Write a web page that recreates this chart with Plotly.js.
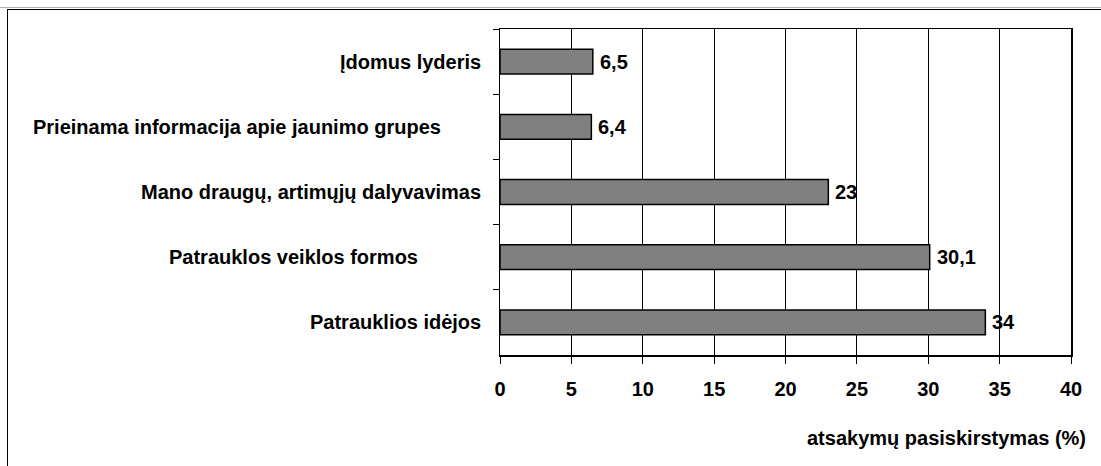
<!DOCTYPE html>
<html>
<head>
<meta charset="utf-8">
<script src="https://cdn.plot.ly/plotly-3.0.1.min.js"></script>
<style>
  html, body { margin: 0; padding: 0; background: #fff; }
  #wrap { position: relative; width: 1101px; height: 466px; }
  #chart { width: 1101px; height: 466px; }
  #frameGray { position: absolute; left: 0; top: 7px; width: 1101px; height: 0; border-top: 1px solid #b0b0b0; pointer-events: none; }
  #frame { position: absolute; left: 7px; top: 9px; width: 1094px; height: 457px; border-top: 1px solid #000; border-left: 1px solid #000; pointer-events: none; }
</style>
</head>
<body>
<div id="wrap">
  <div id="chart"></div>
  <div id="frameGray"></div>
  <div id="frame"></div>
</div>
<script>
const categories = [
  "Įdomus lyderis",
  "Prieinama informacija apie jaunimo grupes",
  "Mano draugų, artimųjų dalyvavimas",
  "Patrauklos veiklos formos",
  "Patrauklios idėjos"
];
const values = [6.5, 6.4, 23, 30.1, 34];
const valueLabels = ["6,5", "6,4", "23", "30,1", "34"];
const xTicks = [0, 5, 10, 15, 20, 25, 30, 35, 40];
const xTitle = "atsakymų pasiskirstymas (%)";

// layout-only: horizontal shift (px) of each category label's right edge from the axis
const labelShift = [-17, -57, -17, -80, -17];

const font = "Liberation Sans, Arial, sans-serif";
const boldFont = { family: font, size: 20, color: "#000", weight: "bold" };

const trace = {
  type: "bar",
  orientation: "h",
  x: values,
  y: categories,
  marker: { color: "#808080", line: { color: "#000", width: 1.5 } },
  hoverinfo: "skip"
};

const annotations = [];
categories.forEach((c, i) => {
  annotations.push({
    text: c, xref: "paper", yref: "y", x: 0, y: c,
    xanchor: "right", yanchor: "middle", xshift: labelShift[i],
    showarrow: false, font: boldFont
  });
  annotations.push({
    text: valueLabels[i], xref: "x", yref: "y", x: values[i], y: c,
    xanchor: "left", yanchor: "middle", xshift: 5,
    showarrow: false, font: boldFont
  });
});
annotations.push({
  text: xTitle,
  xref: "paper", yref: "paper",
  x: 1.03, y: -0.255,
  xanchor: "right", yanchor: "middle",
  showarrow: false,
  font: boldFont
});

const layout = {
  width: 1101,
  height: 466,
  margin: { l: 500, r: 30, t: 29, b: 111 },
  paper_bgcolor: "#fff",
  plot_bgcolor: "#fff",
  showlegend: false,
  bargap: 0.62,
  font: { family: font, size: 20, color: "#000" },
  xaxis: {
    range: [0, 40],
    tickvals: xTicks,
    ticktext: xTicks.map(String),
    ticks: "outside",
    ticklen: 7,
    tickwidth: 1,
    tickcolor: "#000",
    showgrid: true,
    gridcolor: "#000",
    gridwidth: 1,
    showline: true,
    linecolor: "#000",
    linewidth: 1.5,
    mirror: true,
    zeroline: false,
    ticklabelstandoff: 8,
    tickfont: boldFont,
    fixedrange: true
  },
  yaxis: {
    type: "category",
    autorange: "reversed",
    ticks: "outside",
    tickson: "boundaries",
    ticklen: 6,
    tickwidth: 1,
    tickcolor: "#000",
    showgrid: false,
    showline: true,
    linecolor: "#000",
    linewidth: 1.5,
    mirror: true,
    showticklabels: false,
    fixedrange: true
  },
  annotations: annotations
};

Plotly.newPlot("chart", [trace], layout, { displayModeBar: false, staticPlot: true });
</script>
</body>
</html>
